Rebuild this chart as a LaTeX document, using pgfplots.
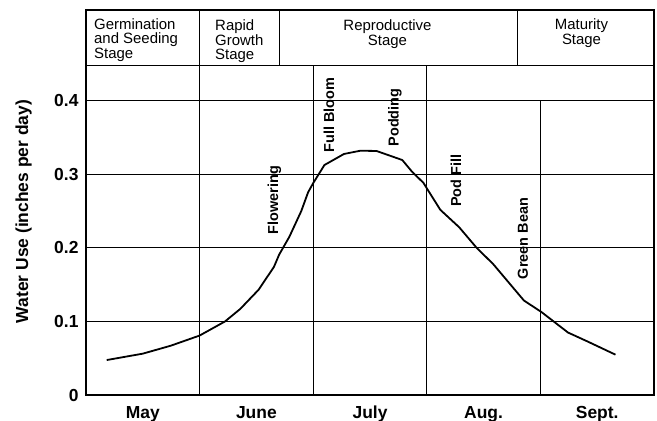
\documentclass[border=0pt]{standalone}
\usepackage{fontspec}
\setmainfont{Liberation Sans}
\usepackage{pgfplots}
\pgfplotsset{compat=1.18}
\begin{document}
\begin{tikzpicture}
\path[use as bounding box] (-86bp,-26bp) rectangle (571bp,395bp);
\begin{axis}[
  at={(0,0)}, anchor=south west,
  scale only axis, width=568bp, height=385bp,
  xmin=0, xmax=5, ymin=0, ymax=0.5233,
  enlargelimits=false, clip=false,
  axis line style={line width=1.3bp},
  major tick length=0,
  xtick={0.5,1.5,2.5,3.5,4.5},
  xticklabels={May,June,July,Aug.,Sept.},
  ytick={0,0.1,0.2,0.3,0.4},
  ymajorgrids,
  major grid style={black, line width=1bp},
  /pgf/number format/assume math mode=true,
  ticklabel style={font=\bfseries\fontsize{17.5}{21}\selectfont},
  xticklabel style={text height=13bp, text depth=4bp, yshift=-6.5bp},
  yticklabel style={xshift=-4bp},
  ylabel={Water Use (inches per day)},
  ylabel style={at={(axis description cs:-0.110,0.4766)}, anchor=center, font=\bfseries\fontsize{17.5}{21}\selectfont},
]
% structural lines of the chart
\draw[line width=1bp] (axis cs:1,0) -- (axis cs:1,0.5233);
\draw[line width=1bp] (axis cs:2,0) -- (axis cs:2,0.4481);
\draw[line width=1bp] (axis cs:3,0) -- (axis cs:3,0.4481);
\draw[line width=1bp] (axis cs:4,0) -- (axis cs:4,0.4);
\draw[line width=1.2bp] (axis cs:0,0.4481) -- (axis cs:5,0.4481);
\draw[line width=1bp] (axis cs:1.70,0.4481) -- (axis cs:1.70,0.5233);
\draw[line width=1bp] (axis cs:3.795,0.4481) -- (axis cs:3.795,0.5233);
% header texts
\node[anchor=north west, align=left, inner sep=0, font=\fontsize{15}{15}\selectfont] at (axis cs:0.070,0.5124) {Germination\\and Seeding\\Stage};
\node[anchor=north west, align=left, inner sep=0, font=\fontsize{15}{15}\selectfont] at (axis cs:1.136,0.5110) {Rapid\\Growth\\Stage};
\node[anchor=north, align=center, inner sep=0, font=\fontsize{15}{15}\selectfont] at (axis cs:2.654,0.5110) {Reproductive\\Stage};
\node[anchor=north, align=center, inner sep=0, font=\fontsize{15}{15}\selectfont] at (axis cs:4.362,0.5120) {Maturity\\Stage};
% growth stage annotations
\node[rotate=90, inner sep=0, font=\bfseries\fontsize{14.5}{17}\selectfont] at (axis cs:1.659,0.265) {Flowering};
\node[rotate=90, inner sep=0, font=\bfseries\fontsize{14.5}{17}\selectfont] at (axis cs:2.139,0.3806) {Full Bloom};
\node[rotate=90, inner sep=0, font=\bfseries\fontsize{14.5}{17}\selectfont] at (axis cs:2.720,0.3772) {Podding};
\node[rotate=90, inner sep=0, font=\bfseries\fontsize{14.5}{17}\selectfont] at (axis cs:3.257,0.291) {Pod Fill};
\node[rotate=90, inner sep=0, font=\bfseries\fontsize{14.5}{17}\selectfont] at (axis cs:3.847,0.2127) {Green Bean};
% water use curve
\addplot[black, line width=1.8bp, line join=round] coordinates {
(0.182,0.0475) (0.5,0.0562) (0.746,0.067) (1.0,0.0808) (1.224,0.100)
(1.358,0.117) (1.519,0.143) (1.654,0.174) (1.701,0.191) (1.790,0.215)
(1.895,0.250) (1.955,0.2755) (2.0,0.288) (2.099,0.3126) (2.271,0.3276)
(2.414,0.332) (2.557,0.3317) (2.784,0.3194) (2.870,0.3035) (2.970,0.2884)
(3.014,0.2775) (3.119,0.2517) (3.285,0.228) (3.439,0.200) (3.584,0.178)
(3.855,0.1284) (4.009,0.1128) (4.243,0.0849) (4.417,0.0726) (4.661,0.0548)
};
\end{axis}
\end{tikzpicture}
\end{document}
